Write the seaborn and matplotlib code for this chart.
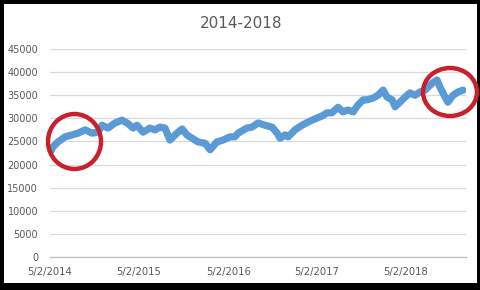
import matplotlib
matplotlib.use("Agg")
import matplotlib.pyplot as plt
from matplotlib.patches import Ellipse, Rectangle
import pandas as pd
import seaborn as sns

title = "2014-2018"
dates = [
    "2014-05-02", "2014-05-14", "2014-06-04", "2014-07-03", "2014-07-31", "2014-08-25",
    "2014-09-23", "2014-10-21", "2014-11-15", "2014-12-01", "2014-12-26", "2015-01-24",
    "2015-02-21", "2015-03-14", "2015-04-08", "2015-04-24", "2015-05-19", "2015-06-16",
    "2015-07-07", "2015-07-27", "2015-08-17", "2015-09-06", "2015-10-05", "2015-10-26",
    "2015-11-15", "2015-12-06", "2015-12-30", "2016-01-28", "2016-02-18", "2016-03-17",
    "2016-04-11", "2016-05-10", "2016-05-30", "2016-06-12", "2016-07-18", "2016-08-08",
    "2016-09-02", "2016-09-30", "2016-10-29", "2016-11-19", "2016-12-01", "2016-12-21",
    "2017-01-03", "2017-01-31", "2017-03-01", "2017-03-26", "2017-04-24", "2017-05-22",
    "2017-06-12", "2017-07-02", "2017-07-27", "2017-08-16", "2017-09-06", "2017-09-27",
    "2017-10-17", "2017-11-07", "2017-11-23", "2017-12-18", "2018-01-07", "2018-01-28",
    "2018-02-13", "2018-03-06", "2018-03-18", "2018-04-07", "2018-04-28", "2018-05-18",
    "2018-06-08", "2018-06-28", "2018-07-19", "2018-08-17", "2018-09-06", "2018-09-18",
    "2018-10-09", "2018-10-21", "2018-11-11", "2018-12-01", "2018-12-22",
]
values = [
    22500, 23800, 24900, 26000, 26400, 26800,
    27500, 26800, 27000, 28500, 27900, 29000,
    29600, 29000, 27900, 28500, 27000, 27900,
    27500, 28100, 27900, 25300, 26800, 27700,
    26400, 25700, 24900, 24600, 23200, 24900,
    25300, 26000, 26000, 26800, 27900, 28100,
    29000, 28500, 28100, 26800, 25700, 26400,
    26000, 27500, 28500, 29200, 29900, 30500,
    31200, 31200, 32400, 31400, 31800, 31400,
    32900, 34000, 34000, 34400, 35000, 36100,
    34600, 34000, 32500, 33500, 34600, 35500,
    35000, 35700, 36100, 37600, 38300, 36800,
    34600, 33500, 35000, 35700, 36100,
]
tick_dates = ["2014-05-02", "2015-05-02", "2016-05-02", "2017-05-02", "2018-05-02"]
tick_labels = ["5/2/2014", "5/2/2015", "5/2/2016", "5/2/2017", "5/2/2018"]
y_ticks = [0, 5000, 10000, 15000, 20000, 25000, 30000, 35000, 40000, 45000]

df = pd.DataFrame({"date": pd.to_datetime(dates), "value": values})

sns.set_style("white")
plt.rcParams["font.family"] = ["DejaVu Sans"]

W, H = 481, 290
fig = plt.figure(figsize=(W / 100, H / 100), dpi=100)
fig.patch.set_facecolor("black")
fig.patches.append(Rectangle((4 / W, 7 / H), 473 / W, 279 / H, transform=fig.transFigure,
                             facecolor="white", edgecolor="none", zorder=-10))

ax = fig.add_axes([50 / W, 33 / H, 416 / W, 208 / H])
ax.set_facecolor("none")

sns.lineplot(data=df, x="date", y="value", ax=ax, color="#5B9BD5", linewidth=5.2,
             solid_joinstyle="round", solid_capstyle="round", zorder=3)

ax.set_xlim(pd.Timestamp("2014-05-02"), pd.Timestamp("2019-01-03"))
ax.set_ylim(0, 45000)
ax.set_yticks(y_ticks)
ax.set_yticklabels([str(v) for v in y_ticks])
ax.set_xticks(pd.to_datetime(tick_dates))
ax.set_xticklabels(tick_labels)
ax.set_xlabel("")
ax.set_ylabel("")

ax.grid(axis="y", color="#D9D9D9", linewidth=0.9)
ax.set_axisbelow(True)
for s in ["top", "right", "left"]:
    ax.spines[s].set_visible(False)
ax.spines["bottom"].set_color("#BFBFBF")
ax.spines["bottom"].set_linewidth(0.9)
ax.tick_params(axis="y", length=0, pad=8.5, labelsize=7.0, labelcolor="#595959")
ax.tick_params(axis="x", length=4, width=0.9, color="#BFBFBF", pad=3,
               labelsize=7.2, labelcolor="#595959", direction="out")

fig.text(241 / W, 1 - 23 / H, title, ha="center", va="center", fontsize=11, color="#595959")

red = "#C8202C"
fig.patches.append(Ellipse((74.5 / W, 1 - 141.5 / H), 53 / W, 55 / H, transform=fig.transFigure,
                           facecolor="none", edgecolor=red, linewidth=3.2, zorder=20))
fig.patches.append(Ellipse((450 / W, 1 - 92 / H), 54 / W, 48 / H, transform=fig.transFigure,
                           facecolor="none", edgecolor=red, linewidth=3.2, zorder=20))

fig.savefig("out.png", dpi=100, facecolor=fig.get_facecolor())
